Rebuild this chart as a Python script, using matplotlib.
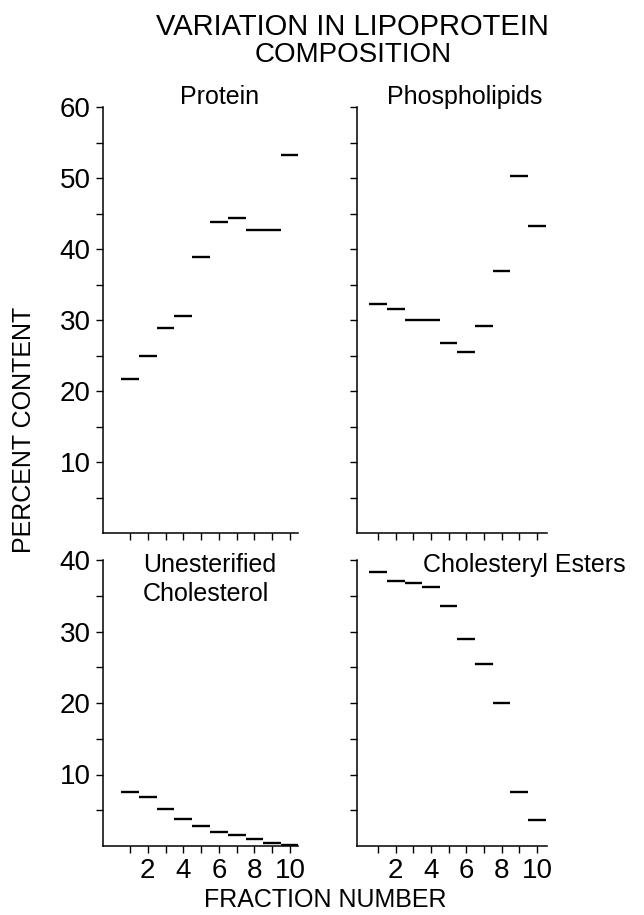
import matplotlib.pyplot as plt
import numpy as np
from matplotlib.ticker import FixedLocator, FuncFormatter

plt.rcParams['font.family'] = ['Liberation Sans', 'DejaVu Sans']

# Fraction numbers and composition (percent content)
fractions = np.arange(1, 11)
protein = [21.7, 24.9, 28.9, 30.6, 38.9, 43.8, 44.3, 42.7, 42.7, 53.2]
phospholipids = [32.3, 31.6, 30.0, 30.0, 26.8, 25.5, 29.2, 36.9, 50.3, 43.2]
free_chol = [7.5, 6.8, 5.2, 3.8, 2.8, 2.0, 1.5, 1.0, 0.4, 0.1]
chol_esters = [38.3, 37.0, 36.8, 36.2, 33.5, 29.0, 25.5, 20.0, 7.5, 3.6]

W, H = 644, 915


def px_box(x0, x1, ytop, ybot):
    # pixel box -> figure fraction rect
    return [x0 / W, 1 - ybot / H, (x1 - x0) / W, (ybot - ytop) / H]


fig = plt.figure(figsize=(W / 100, H / 100), dpi=100)

panels = [
    (px_box(103, 298, 107, 533), protein, 60, (-0.52, 10.45), False),
    (px_box(357, 547, 107, 533), phospholipids, 60, (-0.19, 10.57), False),
    (px_box(103, 298, 560, 846), free_chol, 40, (-0.52, 10.45), True),
    (px_box(357, 547, 560, 846), chol_esters, 40, (-0.19, 10.57), True),
]

for i, (rect, vals, ymax, xl, bottom_row) in enumerate(panels):
    ax = fig.add_axes(rect)
    ax.hlines(vals, fractions - 0.5, fractions + 0.5, color='black', linewidth=1.7)
    ax.set_xlim(*xl)
    ax.set_ylim(0, ymax)
    for s in ['top', 'right']:
        ax.spines[s].set_visible(False)
    for s in ['left', 'bottom']:
        ax.spines[s].set_linewidth(1.1)
    ax.yaxis.set_major_locator(FixedLocator(np.arange(5, ymax + 1, 5)))
    if i % 2 == 0:
        ax.yaxis.set_major_formatter(FuncFormatter(lambda v, p: '%d' % v if v % 10 == 0 else ''))
    else:
        ax.set_yticklabels([])
    ax.xaxis.set_major_locator(FixedLocator(fractions))
    if bottom_row:
        ax.xaxis.set_major_formatter(FuncFormatter(lambda v, p: '%d' % v if v % 2 == 0 else ''))
    else:
        ax.set_xticklabels([])
    ax.tick_params(direction='out', length=5, width=1.0, labelsize=20, pad=4)

# titles and labels
fig.text(352 / W, 1 - 27 / H, 'VARIATION IN LIPOPROTEIN', ha='center', va='center', fontsize=21)
fig.text(353 / W, 1 - 55 / H, 'COMPOSITION', ha='center', va='center', fontsize=20)
fig.text(220 / W, 1 - 97 / H, 'Protein', ha='center', va='center', fontsize=18)
fig.text(465 / W, 1 - 97 / H, 'Phospholipids', ha='center', va='center', fontsize=18)
fig.text(143 / W, 1 - 565 / H, 'Unesterified', ha='left', va='center', fontsize=18)
fig.text(143 / W, 1 - 594 / H, 'Cholesterol', ha='left', va='center', fontsize=18)
fig.text(423 / W, 1 - 565 / H, 'Cholesteryl Esters', ha='left', va='center', fontsize=18)
fig.text(24 / W, 1 - 430 / H, 'PERCENT CONTENT', ha='center', va='center', rotation=90, fontsize=18)
fig.text(325 / W, 1 - 900 / H, 'FRACTION NUMBER', ha='center', va='center', fontsize=18)

plt.savefig('out.png', dpi=100)
plt.close()
